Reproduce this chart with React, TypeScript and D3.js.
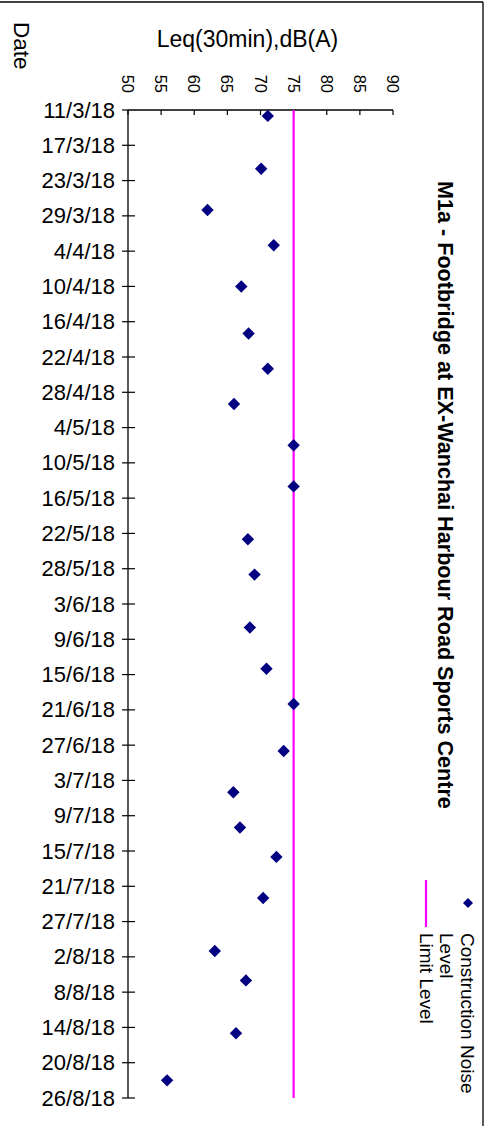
import React from "react";
import * as d3 from "d3";

const W = 488;
const H = 1126;

// Data
const measureDates: string[] = [
  "2018-03-12", "2018-03-21", "2018-03-28", "2018-04-03", "2018-04-10", "2018-04-18",
  "2018-04-24", "2018-04-30", "2018-05-07", "2018-05-14", "2018-05-23", "2018-05-29",
  "2018-06-07", "2018-06-14", "2018-06-20", "2018-06-28", "2018-07-05", "2018-07-11",
  "2018-07-16", "2018-07-23", "2018-08-01", "2018-08-06", "2018-08-15", "2018-08-23",
];
const noiseLevels: number[] = [
  71.1, 70.1, 62.0, 72.0, 67.1, 68.2,
  71.1, 66.0, 75.0, 75.0, 68.1, 69.1,
  68.4, 70.9, 75.0, 73.5, 65.9, 66.9,
  72.4, 70.4, 63.1, 67.8, 66.3, 55.9,
];
const limitLevel = 75;
const limitRange: string[] = ["2018-03-11", "2018-08-26"];

const dateTicks: string[] = [
  "2018-03-11", "2018-03-17", "2018-03-23", "2018-03-29", "2018-04-04", "2018-04-10",
  "2018-04-16", "2018-04-22", "2018-04-28", "2018-05-04", "2018-05-10", "2018-05-16",
  "2018-05-22", "2018-05-28", "2018-06-03", "2018-06-09", "2018-06-15", "2018-06-21",
  "2018-06-27", "2018-07-03", "2018-07-09", "2018-07-15", "2018-07-21", "2018-07-27",
  "2018-08-02", "2018-08-08", "2018-08-14", "2018-08-20", "2018-08-26",
];
const valueTicks: number[] = [50, 55, 60, 65, 70, 75, 80, 85, 90];

const titleText = "M1a - Footbridge at EX-Wanchai Harbour Road Sports Centre";
const valueAxisTitle = "Leq(30min),dB(A)";
const dateAxisTitle = "Date";
const legendNoise = ["Construction Noise", "Level"];
const legendLimit = "Limit Level";

const FONT = "'Liberation Sans', Arial, Helvetica, sans-serif";
const NAVY = "#000080";
const MAGENTA = "#FF00FF";

const parse = d3.utcParse("%Y-%m-%d");
const fmt = d3.utcFormat("%-d/%-m/%y");

function diamond(cx: number, cy: number, r: number) {
  return `M${cx},${cy - r}L${cx + r},${cy}L${cx},${cy + r}L${cx - r},${cy}Z`;
}

function isFirst(d: string) {
  return d === dateTicks[0];
}

export default function App() {
  const x = d3.scaleLinear().domain([50, 90]).range([128, 393]);
  const y = d3
    .scaleUtc()
    .domain([parse(dateTicks[0])!, parse(dateTicks[dateTicks.length - 1])!])
    .range([110, 1098]);

  const axisX = x(50);
  const axisY = y.range()[0];

  return (
    <div style={{ position: "absolute", left: 0, top: 0 }}>
      <svg width={W} height={H} style={{ display: "block", background: "#fff" }} fontFamily={FONT}>
        {/* frame */}
        <line x1={0} y1={2} x2={483} y2={2} stroke="#000" strokeWidth={1.3} />
        <line x1={483} y1={2} x2={483} y2={H} stroke="#000" strokeWidth={1.3} />

        {/* axis titles */}
        <text transform={`translate(13.5,22) rotate(90)`} fontSize={22.5} fill="#000">
          {dateAxisTitle}
        </text>
        <text x={247.5} y={47} fontSize={23} textAnchor="middle" fill="#000">
          {valueAxisTitle}
        </text>

        {/* value axis (top) */}
        <line x1={x(50)} y1={axisY} x2={x(90)} y2={axisY} stroke="#000" strokeWidth={1.3} />
        {valueTicks.map((v) => (
          <g key={v}>
            <line x1={x(v)} y1={axisY} x2={x(v)} y2={axisY + 5} stroke="#000" strokeWidth={1.2} />
            <text
              transform={`translate(${x(v) - 6},${axisY - 17}) rotate(90)`}
              fontSize={16.5}
              textAnchor="end"
              fill="#000"
            >
              {v}
            </text>
          </g>
        ))}

        {/* date axis (left) */}
        <line x1={axisX} y1={y.range()[0]} x2={axisX} y2={y.range()[1]} stroke="#000" strokeWidth={1.3} />
        {dateTicks.map((d) => {
          const yy = y(parse(d)!);
          return (
            <g key={d}>
              <line x1={122} y1={yy} x2={isFirst(d) ? axisX : 135} y2={yy} stroke="#000" strokeWidth={1.2} />
              <text x={115} y={yy + 7.6} fontSize={22} textAnchor="end" fill="#000">
                {fmt(parse(d)!)}
              </text>
            </g>
          );
        })}

        {/* limit line */}
        <line
          x1={x(limitLevel)}
          y1={y(parse(limitRange[0])!)}
          x2={x(limitLevel)}
          y2={y(parse(limitRange[1])!)}
          stroke={MAGENTA}
          strokeWidth={2.2}
        />

        {/* noise points */}
        {measureDates.map((d, i) => (
          <path key={d} d={diamond(x(noiseLevels[i]), y(parse(d)!), 6.2)} fill={NAVY} />
        ))}

        {/* title */}
        <text transform={`translate(438,181) rotate(90)`} fontSize={21.6} fontWeight="bold" fill="#000">
          {titleText}
        </text>

        {/* legend */}
        <path d={diamond(468, 903, 5)} fill={NAVY} />
        <text transform={`translate(461,933) rotate(90)`} fontSize={19} fill="#000">
          {legendNoise[0]}
        </text>
        <text transform={`translate(440,933) rotate(90)`} fontSize={19} fill="#000">
          {legendNoise[1]}
        </text>
        <line x1={426} y1={880} x2={426} y2={927} stroke={MAGENTA} strokeWidth={2.2} />
        <text transform={`translate(420,933) rotate(90)`} fontSize={19} fill="#000">
          {legendLimit}
        </text>
      </svg>
    </div>
  );
}
